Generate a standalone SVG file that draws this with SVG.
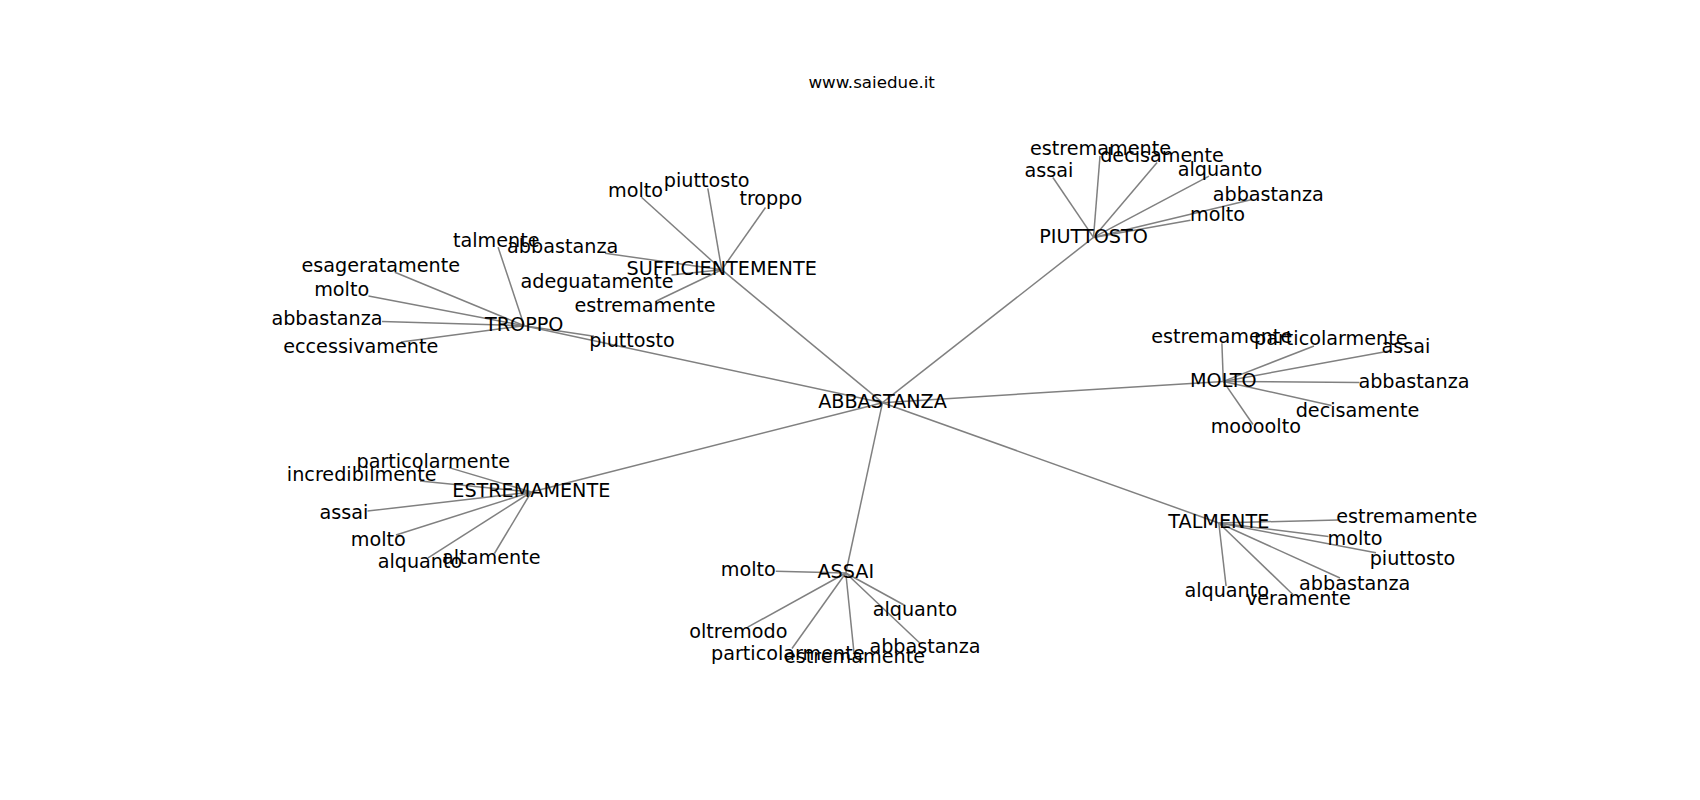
<svg xmlns="http://www.w3.org/2000/svg" width="1700" height="800" viewBox="0 0 1700 800">
<style>
.e{stroke:#808080;stroke-width:1.5;fill:none}
text{font-family:"DejaVu Sans","Liberation Sans",sans-serif;fill:#000;text-anchor:middle}
.n text{font-size:19.2px}
.t{font-size:16.7px}
</style>
<rect width="1700" height="800" fill="#fff"/>
<text class="t" x="871.7" y="88.3">www.saiedue.it</text>
<g id="edges">
<line class="e" x1="882.5" y1="402.7" x2="721.7" y2="269.7"/>
<line class="e" x1="882.5" y1="402.7" x2="524.2" y2="325.7"/>
<line class="e" x1="882.5" y1="402.7" x2="1093.5" y2="237.4"/>
<line class="e" x1="882.5" y1="402.7" x2="1223.3" y2="381.4"/>
<line class="e" x1="882.5" y1="402.7" x2="1218.8" y2="523"/>
<line class="e" x1="882.5" y1="402.7" x2="845.8" y2="573"/>
<line class="e" x1="882.5" y1="402.7" x2="531.3" y2="492"/>
<line class="e" x1="721.7" y1="269.7" x2="641.5" y2="197.3"/>
<line class="e" x1="721.7" y1="269.7" x2="707.8" y2="188.3"/>
<line class="e" x1="721.7" y1="269.7" x2="765.5" y2="207.5"/>
<line class="e" x1="721.7" y1="269.7" x2="605" y2="253.3"/>
<line class="e" x1="721.7" y1="269.7" x2="671.5" y2="275"/>
<line class="e" x1="721.7" y1="269.7" x2="655.9" y2="301.2"/>
<line class="e" x1="524.2" y1="325.7" x2="498.1" y2="247.2"/>
<line class="e" x1="524.2" y1="325.7" x2="394.8" y2="272.2"/>
<line class="e" x1="524.2" y1="325.7" x2="368.5" y2="295.9"/>
<line class="e" x1="524.2" y1="325.7" x2="382" y2="321.4"/>
<line class="e" x1="524.2" y1="325.7" x2="401" y2="342"/>
<line class="e" x1="524.2" y1="325.7" x2="594" y2="336.2"/>
<line class="e" x1="1093.5" y1="237.4" x2="1100" y2="156"/>
<line class="e" x1="1093.5" y1="237.4" x2="1157.1" y2="162.5"/>
<line class="e" x1="1093.5" y1="237.4" x2="1052.9" y2="177.5"/>
<line class="e" x1="1093.5" y1="237.4" x2="1209" y2="176.2"/>
<line class="e" x1="1093.5" y1="237.4" x2="1252" y2="199.5"/>
<line class="e" x1="1093.5" y1="237.4" x2="1190.5" y2="220.3"/>
<line class="e" x1="1223.3" y1="381.4" x2="1221.9" y2="343.2"/>
<line class="e" x1="1223.3" y1="381.4" x2="1314" y2="346"/>
<line class="e" x1="1223.3" y1="381.4" x2="1392" y2="350.4"/>
<line class="e" x1="1223.3" y1="381.4" x2="1359.5" y2="382.5"/>
<line class="e" x1="1223.3" y1="381.4" x2="1331.5" y2="405.5"/>
<line class="e" x1="1223.3" y1="381.4" x2="1253" y2="424.5"/>
<line class="e" x1="1218.8" y1="523" x2="1338" y2="519.9"/>
<line class="e" x1="1218.8" y1="523" x2="1328.5" y2="536.4"/>
<line class="e" x1="1218.8" y1="523" x2="1376" y2="552.8"/>
<line class="e" x1="1218.8" y1="523" x2="1340" y2="578"/>
<line class="e" x1="1218.8" y1="523" x2="1226.1" y2="586.2"/>
<line class="e" x1="1218.8" y1="523" x2="1292.9" y2="594.5"/>
<line class="e" x1="845.8" y1="573" x2="775.8" y2="571.3"/>
<line class="e" x1="845.8" y1="573" x2="905" y2="605.5"/>
<line class="e" x1="845.8" y1="573" x2="747.7" y2="627.2"/>
<line class="e" x1="845.8" y1="573" x2="792" y2="648.5"/>
<line class="e" x1="845.8" y1="573" x2="854" y2="652.8"/>
<line class="e" x1="845.8" y1="573" x2="919.5" y2="642.8"/>
<line class="e" x1="531.3" y1="492" x2="449" y2="467.6"/>
<line class="e" x1="531.3" y1="492" x2="420" y2="481"/>
<line class="e" x1="531.3" y1="492" x2="367.5" y2="511.1"/>
<line class="e" x1="531.3" y1="492" x2="396" y2="535"/>
<line class="e" x1="531.3" y1="492" x2="428.1" y2="557.8"/>
<line class="e" x1="531.3" y1="492" x2="494.4" y2="553.5"/>
</g>
<g class="n">
<g id="n-abbastanza"><text x="882.5" y="408">ABBASTANZA</text></g>
<g id="n-sufficientemente"><text x="721.7" y="275">SUFFICIENTEMENTE</text></g>
<g id="n-troppo"><text x="524.2" y="331">TROPPO</text></g>
<g id="n-piuttosto"><text x="1093.5" y="242.7">PIUTTOSTO</text></g>
<g id="n-molto"><text x="1223.3" y="386.7">MOLTO</text></g>
<g id="n-talmente"><text x="1218.8" y="528.3">TALMENTE</text></g>
<g id="n-assai"><text x="845.8" y="578.3">ASSAI</text></g>
<g id="n-estremamente"><text x="531.3" y="497.3">ESTREMAMENTE</text></g>
<g id="n-suff-molto"><text x="635.5" y="197.3">molto</text></g>
<g id="n-suff-piuttosto"><text x="706.7" y="187.3">piuttosto</text></g>
<g id="n-suff-troppo"><text x="770.8" y="205">troppo</text></g>
<g id="n-suff-abbastanza"><text x="562.7" y="253">abbastanza</text></g>
<g id="n-suff-adeguatamente"><text x="597" y="288.3">adeguatamente</text></g>
<g id="n-suff-estremamente"><text x="645" y="311.7">estremamente</text></g>
<g id="n-troppo-talmente"><text x="496.2" y="246.7">talmente</text></g>
<g id="n-troppo-esageratamente"><text x="380.8" y="271.7">esageratamente</text></g>
<g id="n-troppo-molto"><text x="341.7" y="296">molto</text></g>
<g id="n-troppo-abbastanza"><text x="327" y="325">abbastanza</text></g>
<g id="n-troppo-eccessivamente"><text x="360.8" y="352.7">eccessivamente</text></g>
<g id="n-troppo-piuttosto"><text x="632" y="347">piuttosto</text></g>
<g id="n-piut-estremamente"><text x="1100.5" y="155">estremamente</text></g>
<g id="n-piut-decisamente"><text x="1162" y="162">decisamente</text></g>
<g id="n-piut-assai"><text x="1049" y="177">assai</text></g>
<g id="n-piut-alquanto"><text x="1220" y="175.7">alquanto</text></g>
<g id="n-piut-abbastanza"><text x="1268.3" y="201">abbastanza</text></g>
<g id="n-piut-molto"><text x="1217.5" y="220.7">molto</text></g>
<g id="n-molto-estremamente"><text x="1221.7" y="342.7">estremamente</text></g>
<g id="n-molto-particolarmente"><text x="1330.8" y="345">particolarmente</text></g>
<g id="n-molto-assai"><text x="1406" y="352.7">assai</text></g>
<g id="n-molto-abbastanza"><text x="1414" y="388.3">abbastanza</text></g>
<g id="n-molto-decisamente"><text x="1357.5" y="416.7">decisamente</text></g>
<g id="n-molto-moooolto"><text x="1255.8" y="433.3">moooolto</text></g>
<g id="n-talm-estremamente"><text x="1406.7" y="523.3">estremamente</text></g>
<g id="n-talm-molto"><text x="1355" y="545">molto</text></g>
<g id="n-talm-piuttosto"><text x="1412.5" y="565">piuttosto</text></g>
<g id="n-talm-abbastanza"><text x="1354.7" y="590">abbastanza</text></g>
<g id="n-talm-alquanto"><text x="1226.7" y="596.7">alquanto</text></g>
<g id="n-talm-veramente"><text x="1298.3" y="605">veramente</text></g>
<g id="n-assai-molto"><text x="748.3" y="576">molto</text></g>
<g id="n-assai-alquanto"><text x="915" y="616">alquanto</text></g>
<g id="n-assai-oltremodo"><text x="738.3" y="637.7">oltremodo</text></g>
<g id="n-assai-particolarmente"><text x="787.8" y="660">particolarmente</text></g>
<g id="n-assai-estremamente"><text x="854.5" y="663.3">estremamente</text></g>
<g id="n-assai-abbastanza"><text x="925" y="653.3">abbastanza</text></g>
<g id="n-estr-particolarmente"><text x="433.3" y="468.3">particolarmente</text></g>
<g id="n-estr-incredibilmente"><text x="361.7" y="480.7">incredibilmente</text></g>
<g id="n-estr-assai"><text x="344" y="519.3">assai</text></g>
<g id="n-estr-molto"><text x="378.3" y="546">molto</text></g>
<g id="n-estr-alquanto"><text x="420" y="568.3">alquanto</text></g>
<g id="n-estr-altamente"><text x="491.3" y="564">altamente</text></g>
</g>
</svg>
